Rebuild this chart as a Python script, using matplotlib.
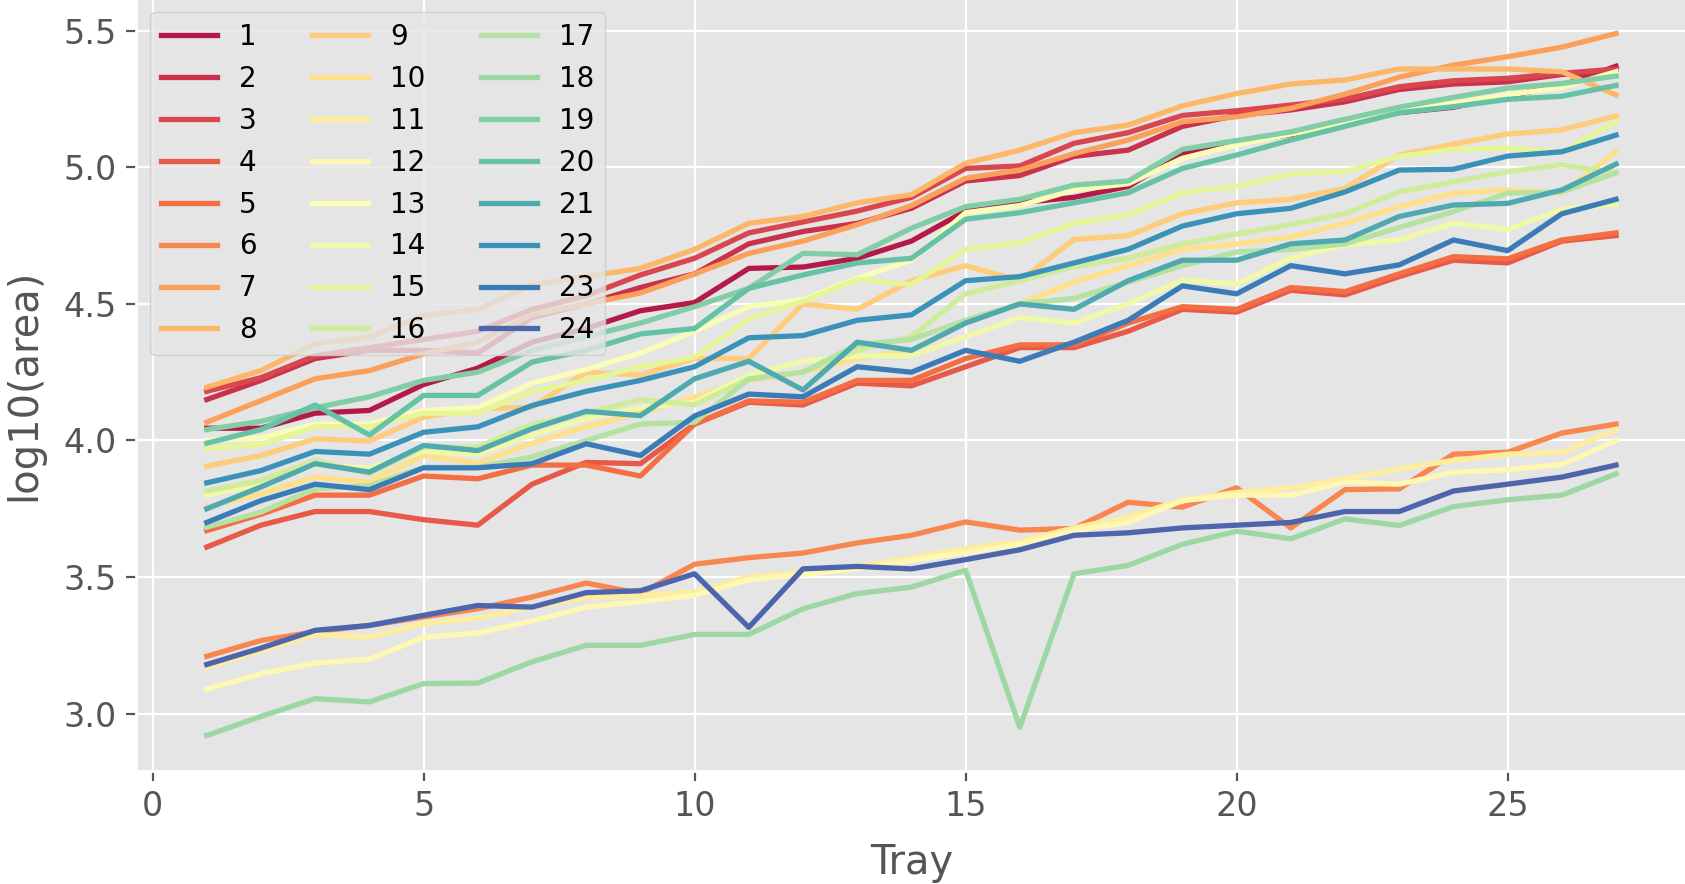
import numpy as np
import matplotlib
matplotlib.use("Agg")
import matplotlib.pyplot as plt

# tray numbers on the x axis
trays = np.arange(1, 28)

# log10(area) per plant, one list per plant
s1 = [4.045, 4.045, 4.10, 4.11, 4.205, 4.265, 4.36, 4.41, 4.475, 4.505,
      4.63, 4.635, 4.667, 4.73, 4.84, 4.87, 4.89, 4.93,
      5.05, 5.09, 5.12, 5.16, 5.20, 5.22, 5.26, 5.30, 5.37]
s2 = [4.15, 4.22, 4.30, 4.33, 4.33, 4.32, 4.45, 4.50, 4.56, 4.61,
      4.72, 4.765, 4.795, 4.85, 4.95, 4.97, 5.04, 5.063,
      5.15, 5.19, 5.21, 5.24, 5.285, 5.305, 5.313, 5.34, 5.35]
s3 = [4.18, 4.23, 4.31, 4.34, 4.37, 4.40, 4.48, 4.53, 4.606, 4.667,
      4.76, 4.80, 4.84, 4.89, 4.996, 5.005, 5.088, 5.127,
      5.19, 5.207, 5.228, 5.25, 5.295, 5.317, 5.326, 5.344, 5.36]
s4 = [3.61, 3.69, 3.74, 3.74, 3.71, 3.69, 3.84, 3.92, 3.915, 4.06,
      4.14, 4.13, 4.21, 4.20, 4.27, 4.34, 4.34, 4.40,
      4.48, 4.47, 4.55, 4.533, 4.60, 4.66, 4.65, 4.73, 4.75]
s5 = [3.67, 3.73, 3.80, 3.80, 3.87, 3.86, 3.91, 3.91, 3.87, 4.06,
      4.145, 4.14, 4.22, 4.22, 4.30, 4.35, 4.35, 4.43,
      4.49, 4.48, 4.56, 4.545, 4.61, 4.673, 4.665, 4.734, 4.76]
s6 = [3.21, 3.268, 3.30, 3.323, 3.354, 3.384, 3.427, 3.478, 3.44, 3.547,
      3.571, 3.588, 3.625, 3.653, 3.702, 3.672, 3.678, 3.774,
      3.756, 3.827, 3.68, 3.82, 3.823, 3.95, 3.957, 4.027, 4.06]
s7 = [4.067, 4.146, 4.226, 4.256, 4.317, 4.36, 4.46, 4.50, 4.54, 4.61,
      4.685, 4.73, 4.79, 4.86, 4.96, 4.99, 5.05, 5.10,
      5.167, 5.185, 5.216, 5.268, 5.33, 5.374, 5.405, 5.44, 5.49]
s8 = [4.195, 4.256, 4.354, 4.378, 4.457, 4.48, 4.57, 4.60, 4.63, 4.70,
      4.795, 4.82, 4.87, 4.90, 5.015, 5.063, 5.127, 5.155,
      5.225, 5.27, 5.305, 5.32, 5.36, 5.36, 5.36, 5.35, 5.265]
s9 = [3.906, 3.945, 4.006, 3.998, 4.085, 4.116, 4.122, 4.25, 4.24, 4.30,
      4.30, 4.50, 4.48, 4.585, 4.64, 4.585, 4.736, 4.75,
      4.83, 4.87, 4.883, 4.923, 5.045, 5.085, 5.122, 5.137, 5.188]
s10 = [3.756, 3.805, 3.866, 3.848, 3.945, 3.917, 3.99, 4.05, 4.10, 4.16,
       4.22, 4.25, 4.30, 4.33, 4.43, 4.50, 4.58, 4.64,
       4.70, 4.72, 4.745, 4.795, 4.856, 4.905, 4.917, 4.905, 5.057]
s11 = [3.17, 3.23, 3.29, 3.28, 3.33, 3.35, 3.39, 3.424, 3.433, 3.445,
       3.50, 3.518, 3.54, 3.57, 3.604, 3.63, 3.68, 3.72,
       3.783, 3.81, 3.827, 3.86, 3.896, 3.927, 3.95, 3.957, 4.04]
s12 = [3.09, 3.146, 3.185, 3.20, 3.28, 3.295, 3.34, 3.39, 3.41, 3.433,
       3.49, 3.51, 3.53, 3.56, 3.59, 3.62, 3.67, 3.70,
       3.78, 3.80, 3.80, 3.848, 3.84, 3.884, 3.893, 3.912, 4.0]
s13 = [4.00, 4.01, 4.06, 4.06, 4.11, 4.12, 4.21, 4.26, 4.32, 4.40,
       4.49, 4.515, 4.594, 4.66, 4.834, 4.86, 4.917, 4.94,
       5.033, 5.082, 5.122, 5.16, 5.204, 5.234, 5.265, 5.293, 5.35]
s14 = [3.80, 3.84, 3.91, 3.90, 3.96, 3.95, 4.02, 4.08, 4.12, 4.14,
       4.24, 4.29, 4.31, 4.31, 4.38, 4.45, 4.43, 4.50,
       4.587, 4.573, 4.667, 4.716, 4.734, 4.795, 4.773, 4.846, 4.866]
s15 = [3.97, 3.985, 4.05, 4.05, 4.10, 4.10, 4.18, 4.22, 4.27, 4.305,
       4.445, 4.51, 4.59, 4.57, 4.70, 4.724, 4.795, 4.826,
       4.907, 4.93, 4.976, 4.984, 5.04, 5.066, 5.07, 5.057, 5.167]
s16 = [3.815, 3.854, 3.927, 3.878, 3.976, 3.976, 4.06, 4.10, 4.15, 4.13,
       4.225, 4.25, 4.33, 4.38, 4.537, 4.585, 4.637, 4.667,
       4.72, 4.756, 4.79, 4.83, 4.91, 4.947, 4.984, 5.01, 4.98]
s17 = [3.683, 3.738, 3.823, 3.835, 3.902, 3.902, 3.94, 4.00, 4.06, 4.067,
       4.225, 4.25, 4.35, 4.37, 4.44, 4.50, 4.52, 4.58,
       4.64, 4.69, 4.70, 4.72, 4.78, 4.838, 4.905, 4.91, 4.98]
s18 = [2.92, 2.99, 3.055, 3.043, 3.11, 3.112, 3.19, 3.25, 3.25, 3.29,
       3.29, 3.384, 3.44, 3.463, 3.525, 2.95, 3.512, 3.543,
       3.62, 3.668, 3.64, 3.713, 3.689, 3.758, 3.783, 3.80, 3.878]
s19 = [4.04, 4.07, 4.12, 4.16, 4.22, 4.25, 4.33, 4.38, 4.43, 4.49,
       4.557, 4.685, 4.68, 4.777, 4.856, 4.883, 4.935, 4.95,
       5.066, 5.098, 5.13, 5.176, 5.22, 5.256, 5.29, 5.307, 5.334]
s20 = [3.99, 4.04, 4.13, 4.02, 4.165, 4.165, 4.287, 4.33, 4.39, 4.41,
       4.557, 4.606, 4.65, 4.667, 4.81, 4.834, 4.87, 4.907,
       4.996, 5.045, 5.10, 5.15, 5.20, 5.222, 5.249, 5.26, 5.30]
s21 = [3.75, 3.83, 3.915, 3.884, 3.982, 3.963, 4.043, 4.107, 4.091, 4.226,
       4.29, 4.185, 4.36, 4.33, 4.43, 4.50, 4.48, 4.585,
       4.66, 4.66, 4.72, 4.734, 4.82, 4.862, 4.868, 4.917, 5.012]
s22 = [3.845, 3.89, 3.96, 3.95, 4.03, 4.05, 4.128, 4.18, 4.22, 4.27,
       4.376, 4.384, 4.44, 4.46, 4.585, 4.60, 4.65, 4.70,
       4.785, 4.83, 4.85, 4.91, 4.99, 4.993, 5.041, 5.057, 5.118]
s23 = [3.70, 3.78, 3.84, 3.82, 3.90, 3.90, 3.915, 3.988, 3.945, 4.09,
       4.17, 4.16, 4.27, 4.25, 4.33, 4.29, 4.36, 4.44,
       4.566, 4.537, 4.64, 4.61, 4.643, 4.734, 4.695, 4.83, 4.883]
s24 = [3.18, 3.24, 3.305, 3.323, 3.36, 3.396, 3.39, 3.443, 3.45, 3.512,
       3.316, 3.53, 3.539, 3.53, 3.564, 3.60, 3.653, 3.662,
       3.68, 3.69, 3.70, 3.74, 3.74, 3.815, 3.84, 3.866, 3.91]

series = [s1, s2, s3, s4, s5, s6, s7, s8, s9, s10, s11, s12,
          s13, s14, s15, s16, s17, s18, s19, s20, s21, s22, s23, s24]
labels = [str(i + 1) for i in range(len(series))]

plt.style.use('ggplot')
plt.rcParams['font.family'] = ['DejaVu Sans']

colors = plt.cm.Spectral(np.arange(1, len(series) + 1) / (len(series) + 1))

fig = plt.figure(figsize=(8.425, 4.42), dpi=200)
ax = fig.add_axes([0.0809, 0.1278, 0.92, 0.8745])

for vals, lab, col in zip(series, labels, colors):
    ax.plot(trays, vals, color=col, linewidth=1.9, label=lab)

ax.set_xlim(-0.3, 28.3)
ax.set_ylim(2.79, 5.62)
ax.set_xticks([0, 5, 10, 15, 20, 25])
ax.set_yticks([3.0, 3.5, 4.0, 4.5, 5.0, 5.5])
ax.tick_params(labelsize=12)

ax.set_xlabel('Tray', fontsize=14.4, labelpad=7)
ax.set_ylabel('log10(area)', fontsize=14.4, labelpad=7)

ax.legend(ncol=3, loc='upper left', fontsize=10)

fig.savefig('out.png', dpi=200)
